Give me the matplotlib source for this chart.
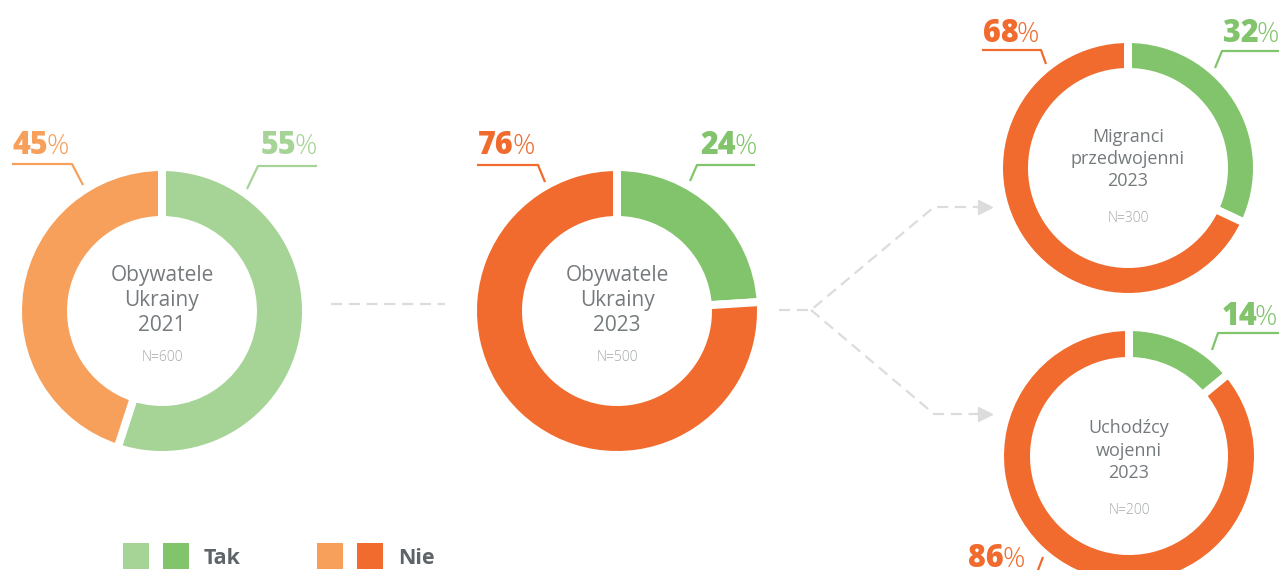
import numpy as np
import matplotlib
matplotlib.use("Agg")
import matplotlib.pyplot as plt
from matplotlib.patches import Rectangle

# data
groups = ["Obywatele\nUkrainy\n2021", "Obywatele\nUkrainy\n2023",
          "Migranci\nprzedwojenni\n2023", "Uchodźcy\nwojenni\n2023"]
sample_n = ["N=600", "N=500", "N=300", "N=200"]
tak = [55, 24, 32, 14]
nie = [45, 76, 68, 86]
legend_labels = ["Tak", "Nie"]

LIGHT_GREEN, GREEN = "#a6d396", "#82c46c"
LIGHT_ORANGE, ORANGE = "#f6a05c", "#f06b2d"
TEXT_GRAY, N_GRAY, LINE_GRAY = "#757a7d", "#a4a8aa", "#dcdcdc"

W, H = 1279, 570
fig = plt.figure(figsize=(W / 100, H / 100), dpi=100)
ax = fig.add_axes([0, 0, 1, 1])

# layout in pixel coords (y goes down)
centers = [(162, 311), (617, 311), (1128, 168), (1129, 456)]
outer = [140, 140, 125, 125]
ring = [45, 45, 25, 26]
tak_colors = [LIGHT_GREEN, GREEN, GREEN, GREEN]
nie_colors = [LIGHT_ORANGE, ORANGE, ORANGE, ORANGE]
gap = 8  # white gap between slices, px

for i in range(4):
    ax.pie([tak[i], nie[i]], colors=[tak_colors[i], nie_colors[i]],
           center=centers[i], radius=outer[i] + gap / 2,
           startangle=270, counterclock=True, frame=True,
           wedgeprops=dict(width=ring[i] + gap, edgecolor="white",
                           linewidth=gap * 0.72))

# centre texts
title_y = [(281, 306, 331, 361), (281, 306, 331, 361),
           (142, 164, 186, 222), (433, 456, 478, 514)]
title_size = [15, 15, 13, 13]
for i in range(4):
    cx = centers[i][0]
    for line, y in zip(groups[i].split("\n"), title_y[i][:3]):
        ax.text(cx, y, line, ha="center", va="baseline", color=TEXT_GRAY,
                fontsize=title_size[i], family="Open Sans")
    ax.text(cx, title_y[i][3], sample_n[i], ha="center", va="baseline",
            color=N_GRAY, fontsize=10, family="Open Sans", fontweight="light")

# percentage labels: (value, split x, baseline y, colour)
labels = [
    (nie[0], 48, 154, LIGHT_ORANGE), (tak[0], 296, 154, LIGHT_GREEN),
    (nie[1], 514, 154, ORANGE), (tak[1], 736, 154, GREEN),
    (nie[2], 1019, 42, ORANGE), (tak[2], 1259, 42, GREEN),
    (tak[3], 1257, 325, GREEN), (nie[3], 1004, 567, ORANGE),
]
for val, x, y, col in labels:
    ax.text(x, y, str(val), ha="right", va="baseline", color=col,
            fontsize=22, fontweight="heavy", family="Open Sans")
    ax.text(x - 2, y, "%", ha="left", va="baseline", color=col,
            fontsize=20, fontweight="light", family="Open Sans")

leaders = [
    ([12, 72, 83], [164, 164, 185], LIGHT_ORANGE),
    ([317, 258, 247], [166, 166, 189], LIGHT_GREEN),
    ([477, 538, 545], [165, 165, 182], ORANGE),
    ([755, 697, 690], [165, 165, 181], GREEN),
    ([982, 1041, 1046], [50, 50, 64], ORANGE),
    ([1279, 1222, 1215], [51, 51, 68], GREEN),
    ([1279, 1218, 1212], [333, 333, 350], GREEN),
    ([1043, 1035], [557, 578], ORANGE),
]
for xs, ys, col in leaders:
    ax.plot(xs, ys, color=col, lw=1.6, solid_capstyle="butt")

# dashed connectors
dash = dict(color=LINE_GRAY, lw=1.6, linestyle=(0, (5, 3)))
ax.plot([331, 445], [304, 304], **dash)
ax.plot([779, 811, 934, 980], [310, 310, 207, 207], **dash)
ax.plot([811, 934, 980], [310, 414, 414], **dash)
ax.plot([985, 985], [207, 414], marker=">", markersize=10, color=LINE_GRAY,
        linestyle="none")

# legend
legend_boxes = [([123, 163], [LIGHT_GREEN, GREEN], 204),
                ([317, 357], [LIGHT_ORANGE, ORANGE], 398)]
for (xs, cols, tx), lab in zip(legend_boxes, legend_labels):
    for x, c in zip(xs, cols):
        ax.add_patch(Rectangle((x, 543), 26, 26, color=c, lw=0))
    ax.text(tx, 564, lab, ha="left", va="baseline", color="#5f6468",
            fontsize=15.5, fontweight="bold", family="Open Sans")

ax.set_xlim(0, W)
ax.set_ylim(H, 0)
ax.set_aspect("equal")
ax.axis("off")

fig.savefig("out.png", dpi=100)
